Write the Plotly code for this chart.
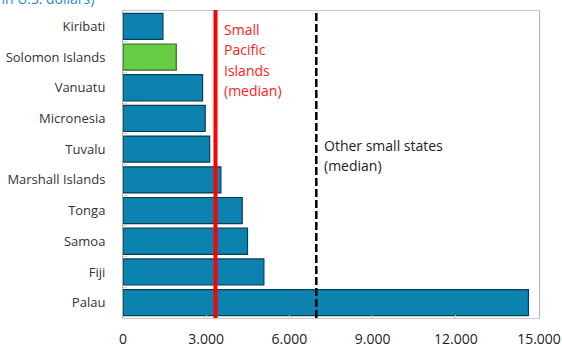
import plotly.graph_objects as go

countries = ["Kiribati", "Solomon Islands", "Vanuatu", "Micronesia", "Tuvalu",
             "Marshall Islands", "Tonga", "Samoa", "Fiji", "Palau"]
values = [1440, 1920, 2870, 2965, 3125, 3530, 4300, 4490, 5080, 14620]
highlight = "Solomon Islands"

pacific_median = 3335
other_median = 6970
pacific_label = ["Small", "Pacific", "Islands", "(median)"]
other_label = ["Other small states", "(median)"]

x_ticks = [0, 3000, 6000, 9000, 12000, 15000]
x_tick_labels = ["0", "3.000", "6.000", "9.000", "12.000", "15.000"]

fill = ["#66cc44" if c == highlight else "#0b82b0" for c in countries]
edge = ["#2f6a1c" if c == highlight else "#0b3e55" for c in countries]

FONT = "Open Sans, Noto Sans, sans-serif"
LINE_STEP = 20.5  # pixel spacing between label lines

fig = go.Figure()
fig.add_trace(go.Bar(
    x=values, y=countries, orientation="h",
    marker=dict(color=fill, line=dict(color=edge, width=1.2)),
    hoverinfo="x+y",
))

fig.add_shape(type="line", xref="x", yref="paper", x0=pacific_median, x1=pacific_median,
              y0=0, y1=1.003, line=dict(color="#ff0000", width=4))
fig.add_shape(type="line", xref="x", yref="paper", x0=other_median, x1=other_median,
              y0=0, y1=1, line=dict(color="#000000", width=2.5, dash="8px,3px"))

for i, line in enumerate(pacific_label):
    fig.add_annotation(x=pacific_median, xref="x", xanchor="left", xshift=7,
                       y=1, yref="paper", yanchor="middle", yshift=-18 - i * LINE_STEP,
                       text=line, showarrow=False, align="left",
                       font=dict(family=FONT, size=14, color="#ff2020"))
for i, line in enumerate(other_label):
    fig.add_annotation(x=other_median, xref="x", xanchor="left", xshift=6,
                       y=1, yref="paper", yanchor="middle", yshift=-134 - i * LINE_STEP,
                       text=line, showarrow=False, align="left",
                       font=dict(family=FONT, size=14, color="#222222"))

# heading that runs off the top edge of the page
fig.add_annotation(x=-0.064, xref="paper", y=1, yref="paper", yshift=1,
                   text="(Per capita, in U.S. dollars)", showarrow=False,
                   xanchor="right", yanchor="bottom",
                   font=dict(family=FONT, size=14, color="#1a8fc8"))

fig.update_layout(
    width=562, height=347,
    margin=dict(l=123, r=23, t=11, b=29),
    paper_bgcolor="white", plot_bgcolor="white",
    showlegend=False, bargap=0.15,
    font=dict(family=FONT, size=13, color="#333333"),
)
fig.update_xaxes(range=[0, 15000], tickvals=x_ticks, ticktext=x_tick_labels,
                 automargin=False,
                 showgrid=False, zeroline=False, showline=True, linecolor="#c8c8c8",
                 linewidth=1, mirror=True, ticks="inside", ticklen=3, tickcolor="#c8c8c8",
                 ticklabelstandoff=8,
                 tickfont=dict(size=14, color="#222222"))
fig.update_yaxes(categoryorder="array", categoryarray=countries, autorange="reversed",
                 automargin=False,
                 showgrid=False, showline=True, linecolor="#b0b0b0", linewidth=1,
                 mirror=True, ticks="inside", tickson="boundaries", ticklen=4,
                 tickcolor="#d0d0d0", ticklabelstandoff=14,
                 tickfont=dict(size=13, color="#333333"))

fig.write_html("out.html")
